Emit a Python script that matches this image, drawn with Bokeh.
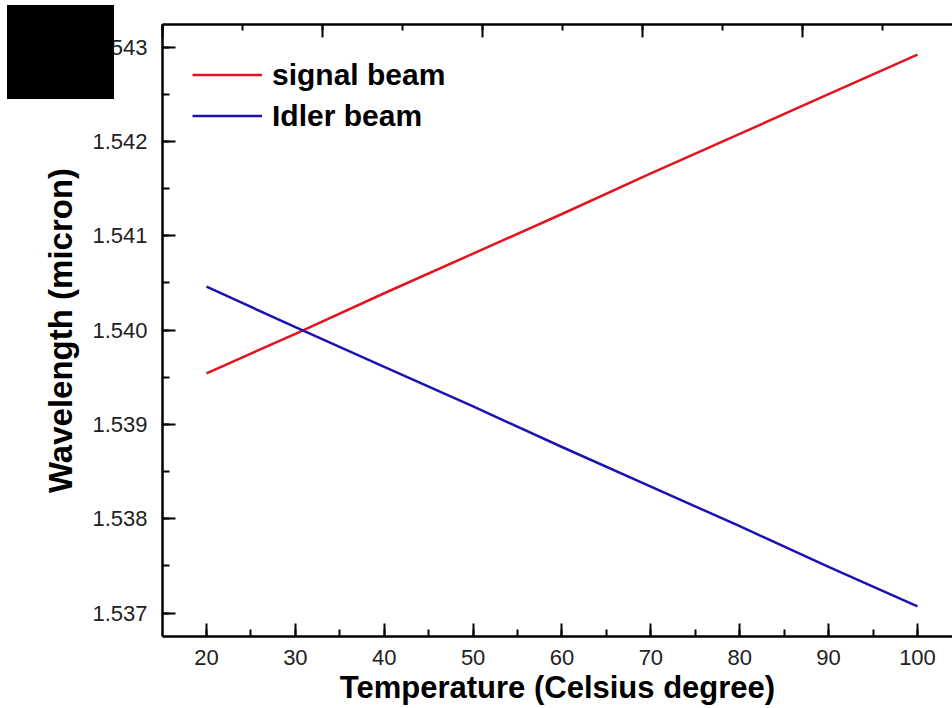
from bokeh.plotting import figure
from bokeh.layouts import column
from bokeh.models import (Range1d, LinearAxis, SingleIntervalTicker, NumeralTickFormatter,
                          Div, CustomJSTickFormatter)
from bokeh.embed import file_html
from bokeh.resources import INLINE

# Tuning curves of the two output beams
temperature = [20, 30, 40, 50, 60, 70, 80, 90, 100]
signal_beam = [1.53954, 1.53996, 1.54039, 1.54081, 1.54123, 1.54166, 1.54208, 1.54250, 1.54292]
idler_beam = [1.54046, 1.54003, 1.53961, 1.53919, 1.53876, 1.53834, 1.53792, 1.53749, 1.53707]

FONT = "Liberation Sans"

p = figure(width=952, height=708, output_backend="svg", toolbar_location=None,
           x_range=Range1d(15.05, 103.94), y_range=Range1d(1.536751, 1.543239),
           min_border_left=162, min_border_right=0, min_border_top=24, min_border_bottom=72,
           x_axis_label="Temperature (Celsius degree)", y_axis_label="Wavelength (micron)")
p.grid.visible = False
p.outline_line_color = None
p.background_fill_color = "white"
p.border_fill_color = "white"

p.line(temperature, signal_beam, color="#e3141f", line_width=2.5, legend_label="signal beam")
p.line(temperature, idler_beam, color="#1c12b4", line_width=2.5, legend_label="Idler beam")

for ax in (p.xaxis[0], p.yaxis[0]):
    ax.axis_line_width = 2.5
    ax.axis_line_color = "black"
    ax.major_tick_in = 13
    ax.major_tick_out = 0
    ax.minor_tick_in = 7
    ax.minor_tick_out = 0
    ax.major_tick_line_width = 2
    ax.minor_tick_line_width = 2
    ax.major_label_text_font = FONT
    ax.major_label_text_font_size = "22px"
    ax.major_label_text_color = "#222222"
    ax.axis_label_text_font = FONT
    ax.axis_label_text_font_style = "bold"
    ax.axis_label_text_color = "black"

xa = p.xaxis[0]
xa.ticker = SingleIntervalTicker(interval=10, num_minor_ticks=2)
xa.major_label_standoff = 13
xa.axis_label_standoff = 2
xa.axis_label_text_font_size = "31px"

ya = p.yaxis[0]
ya.ticker = SingleIntervalTicker(interval=0.001, num_minor_ticks=2)
ya.formatter = NumeralTickFormatter(format="0.000")
ya.major_label_standoff = 15
ya.axis_label_standoff = 10
ya.axis_label_text_font_size = "33px"

# Top frame edge: an unlabeled axis on its own scale
p.extra_x_ranges = {"top": Range1d(0, 9.875)}
top = LinearAxis(x_range_name="top", ticker=SingleIntervalTicker(interval=2, num_minor_ticks=2),
                 formatter=CustomJSTickFormatter(code="return ''"))
top.axis_line_width = 2.5
top.major_tick_in = 13
top.major_tick_out = 0
top.minor_tick_in = 6
top.minor_tick_out = 0
top.major_tick_line_width = 2
top.minor_tick_line_width = 2
top.major_label_text_font_size = "1px"
top.major_label_standoff = 0
p.add_layout(top, "above")

lg = p.legend[0]
lg.location = "top_left"
lg.border_line_color = None
lg.background_fill_alpha = 0
lg.label_text_font = FONT
lg.label_text_font_style = "bold"
lg.label_text_font_size = "30px"
lg.label_text_color = "black"
lg.glyph_width = 70
lg.glyph_height = 41
lg.label_height = 41
lg.spacing = 0
lg.padding = 0
lg.margin = 30
lg.label_standoff = 10

# Solid black block over the upper left corner
block = Div(text="", width=107, height=94, margin=0,
            styles={"position": "absolute", "left": "7px", "top": "5px",
                    "background-color": "black", "z-index": "10"})

open("out.html", "w").write(file_html(column(p, block), INLINE))
